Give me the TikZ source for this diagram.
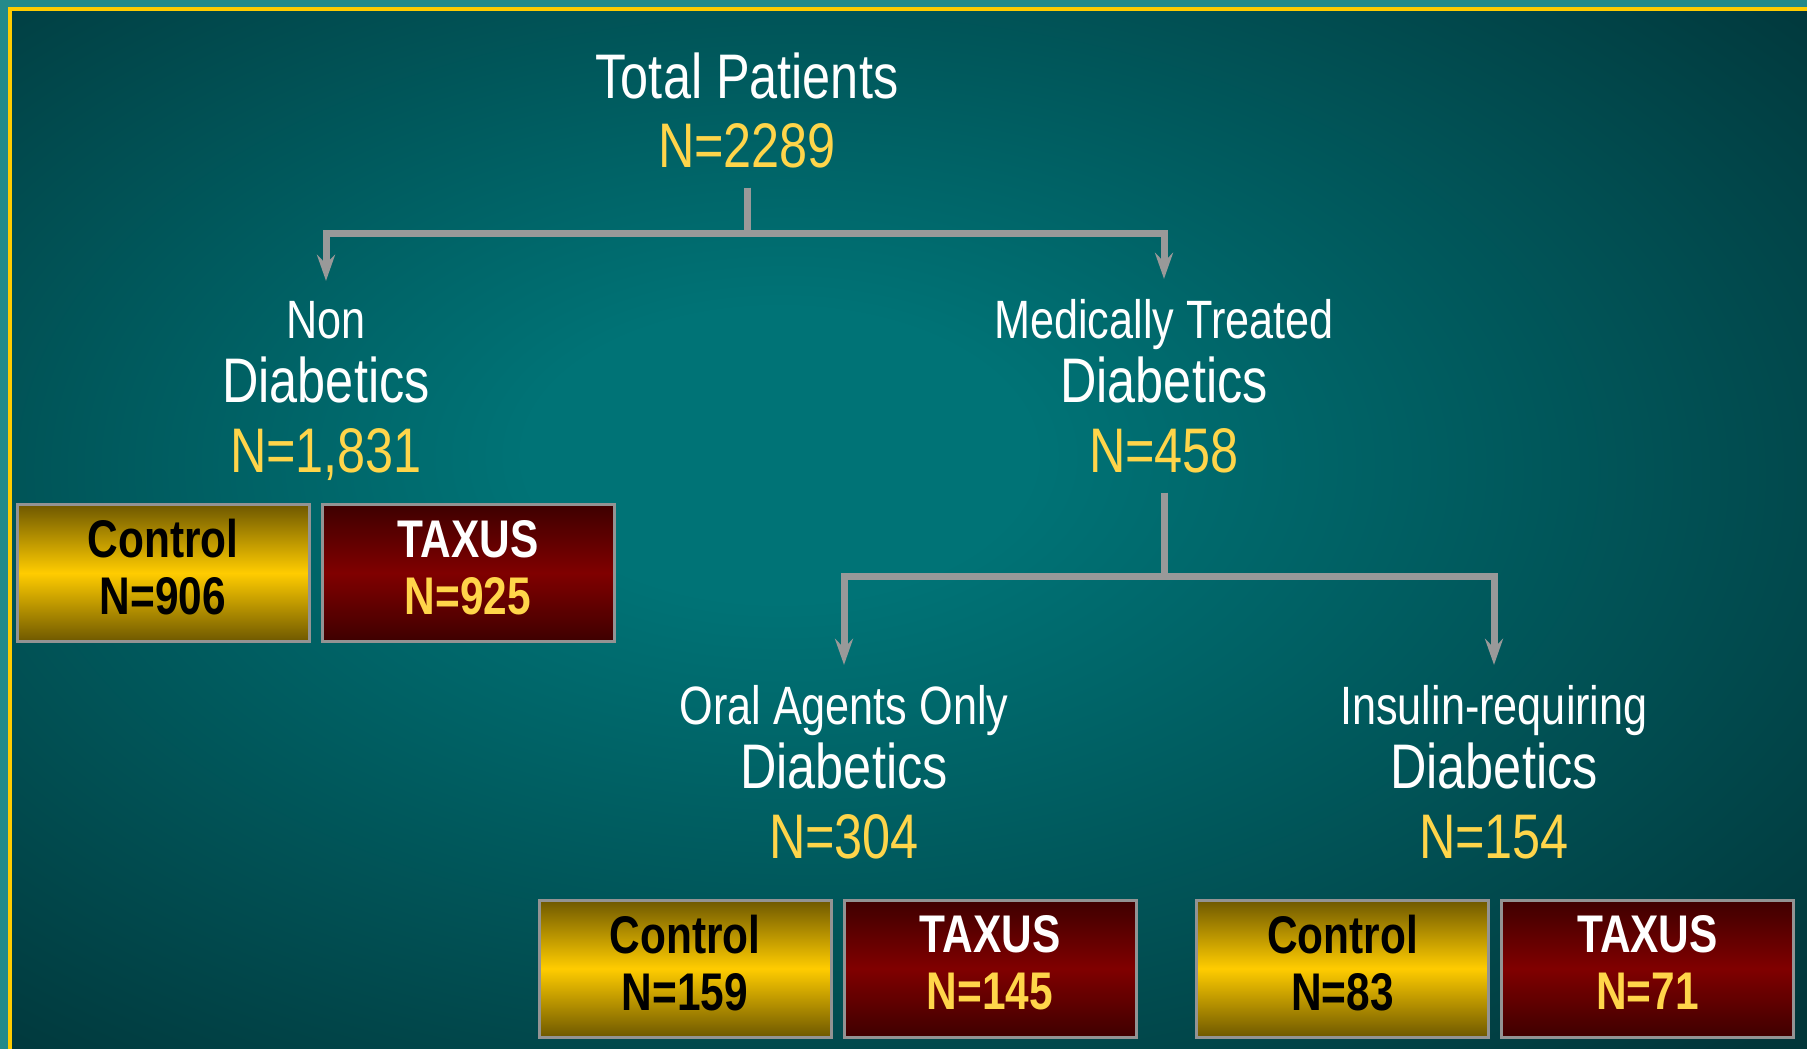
\documentclass[tikz,border=0pt]{standalone}
\usepackage{fontspec}
\setmainfont{Liberation Sans}[FakeStretch=0.8]
\usetikzlibrary{arrows.meta}
\definecolor{bgdark}{HTML}{01363A}
\definecolor{bglight}{HTML}{007376}
\definecolor{rim}{HTML}{248A8A}
\definecolor{gold}{HTML}{FFCC00}
\definecolor{numyel}{HTML}{FFD54A}
\definecolor{linegray}{HTML}{999999}
\definecolor{ctltop}{HTML}{6E5800}
\definecolor{taxtop}{HTML}{3E0000}
\definecolor{taxmid}{HTML}{800000}
\pgfdeclareradialshading{bgglow}{\pgfpoint{-4bp}{4bp}}{color(0bp)=(bglight); color(7bp)=(bglight); color(37bp)=(bgdark); color(75bp)=(bgdark)}
\tikzset{
 lbl/.style={anchor=base, text=white, inner sep=0pt, outer sep=20pt, font=\fontsize{54}{60}\selectfont},
 big/.style={lbl, font=\fontsize{63}{70}\selectfont},
 num/.style={big, text=numyel},
 conn/.style={draw=linegray, line width=7pt, -{Stealth[length=26pt,width=18pt,inset=9pt]}},
 grp/.style={draw=gray!85, line width=3pt, minimum width=292pt, minimum height=137pt, text depth=12pt, align=center, font=\bfseries\fontsize{53}{57}\selectfont},
 ctlbox/.style={grp, top color=ctltop, bottom color=ctltop, middle color=gold, text=black},
 taxbox/.style={grp, top color=taxtop, bottom color=taxtop, middle color=taxmid, text=white}
}

\begin{document}
\begin{tikzpicture}[x=1pt, y=-1pt]
\useasboundingbox (0,0) rectangle (1807,1049);
\fill[rim] (0,0) rectangle (1807,1049);
\shade[shading=bgglow] (11,11) rectangle (1807,1049);
\draw[gold, line width=4pt] (9.5,1049) -- (9.5,9.5) -- (1807,9.5);

\node[big] (tot1) at (747,99) {Total Patients};
\node[num] (tot2) at (747,167) {N=2289};
\foreach \x/\y/\top/\n/\nm in {326/338/Non/{1,831}/nd, 1164/338/Medically Treated/458/md, 844/724/Oral Agents Only/304/od, 1494/724/Insulin-requiring/154/id} {
 \node[lbl] (\nm1) at (\x,\y) {\top};
 \node[big] (\nm2) at (\x,\y+64) {Diabetics};
 \node[num] (\nm3) at (\x,\y+134) {N=\n};
 }

\draw[conn] (tot2.south) -- ++(0,46) -| (nd1.north);
\draw[conn] (tot2.south) -- ++(0,46) -| (md1.north);
\draw[conn] (md3.south) -- ++(0,84) -| (od1.north);
\draw[conn] (md3.south) -- ++(0,84) -| (id1.north);

\foreach \x/\y/\c/\t/\nm in {163/573/906/925/a, 685/968.5/159/145/b, 1342.5/968.5/83/71/c} {
 \node[ctlbox] (ctl\nm) at (\x,\y) {Control\\N=\c};
 \node[taxbox] (tax\nm) at (\x+305,\y) {TAXUS\\\textcolor{numyel}{N=\t}};
 }
\end{tikzpicture}
\end{document}
